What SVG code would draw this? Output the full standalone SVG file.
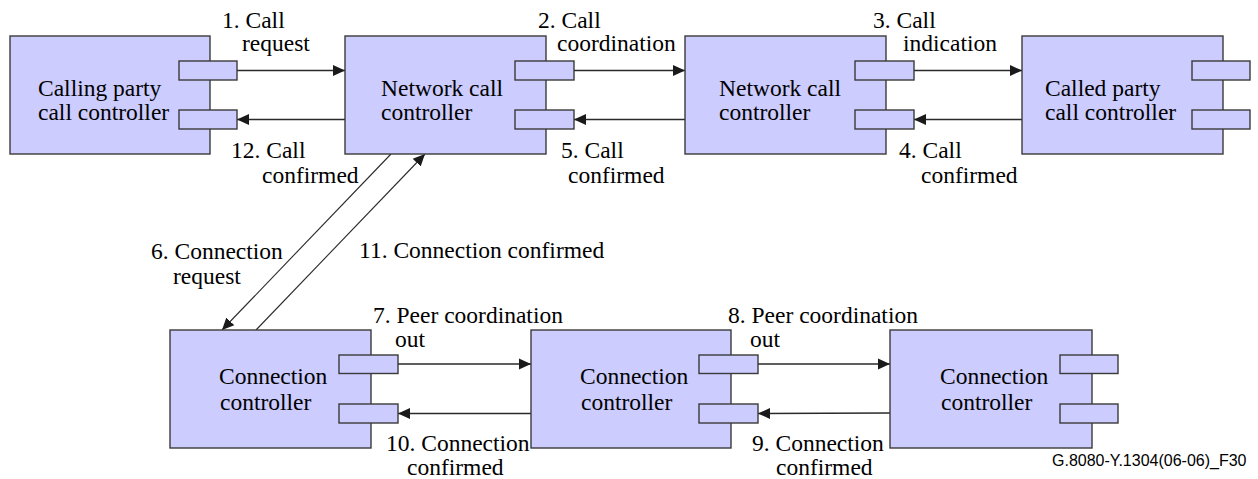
<svg xmlns="http://www.w3.org/2000/svg" width="1258" height="479" viewBox="0 0 1258 479">
<style>
.box{fill:#ccccff;stroke:#3a3a3a;stroke-width:1.4}
.port{fill:#ccccff;stroke:#3a3a3a;stroke-width:1.4}
.c{stroke:#2a2a2a;stroke-width:1.4;fill:none;marker-end:url(#ah)}
.d{stroke:#2a2a2a;stroke-width:1.1;fill:none;marker-end:url(#ah)}
</style>
<defs>
<marker id="ah" viewBox="0 0 12 12" refX="12" refY="6" markerWidth="12" markerHeight="12" markerUnits="userSpaceOnUse" orient="auto">
<path d="M0,0.5 L12,6 L0,11.5 Z" fill="#1a1a1a"/>
</marker>
</defs>
<rect width="1258" height="479" fill="#fff"/>

<g id="connectors">
<line class="c" x1="237" y1="70.5" x2="345" y2="70.5"/>
<line class="c" x1="345" y1="119.5" x2="237" y2="119.5"/>
<line class="c" x1="574" y1="70.5" x2="685" y2="70.5"/>
<line class="c" x1="685" y1="119.5" x2="574" y2="119.5"/>
<line class="c" x1="914" y1="70.5" x2="1022" y2="70.5"/>
<line class="c" x1="1022" y1="119.5" x2="914" y2="119.5"/>
<line class="d" x1="391" y1="154" x2="222" y2="330"/>
<line class="d" x1="256" y1="330" x2="425" y2="154"/>
<line class="c" x1="398" y1="364" x2="531" y2="364"/>
<line class="c" x1="531" y1="413.5" x2="398" y2="413.5"/>
<line class="c" x1="758" y1="364" x2="890" y2="364"/>
<line class="c" x1="890" y1="413" x2="758" y2="413.5"/>
</g>

<g font-family="'Liberation Serif', 'DejaVu Serif', serif" font-size="23.5" fill="#000">
<g id="node-calling">
<rect class="box" x="10" y="36" width="200" height="118"/>
<rect class="port" x="179" y="61" width="58" height="19"/>
<rect class="port" x="179" y="110" width="58" height="19"/>
<text x="38" y="96">Calling party</text>
<text x="38" y="119.5">call controller</text>
</g>

<g id="node-ncc1">
<rect class="box" x="345" y="36" width="201" height="118"/>
<rect class="port" x="515" y="61" width="59" height="19"/>
<rect class="port" x="515" y="110" width="59" height="19"/>
<text x="381" y="96">Network call</text>
<text x="381" y="119.5">controller</text>
</g>

<g id="node-ncc2">
<rect class="box" x="685" y="36" width="201" height="118"/>
<rect class="port" x="855" y="61" width="59" height="19"/>
<rect class="port" x="855" y="110" width="59" height="19"/>
<text x="719" y="96">Network call</text>
<text x="719" y="119.5">controller</text>
</g>

<g id="node-called">
<rect class="box" x="1022" y="36" width="201" height="118"/>
<rect class="port" x="1192" y="61" width="58" height="19"/>
<rect class="port" x="1192" y="110" width="58" height="19"/>
<text x="1045" y="96">Called party</text>
<text x="1045" y="119.5">call controller</text>
</g>

<g id="node-cc1">
<rect class="box" x="170" y="330" width="201" height="118"/>
<rect class="port" x="339" y="355" width="59" height="18.5"/>
<rect class="port" x="339" y="404" width="59" height="19"/>
<text x="219" y="384">Connection</text>
<text x="220" y="410">controller</text>
</g>

<g id="node-cc2">
<rect class="box" x="531" y="330" width="200" height="118"/>
<rect class="port" x="699" y="355" width="59" height="18.5"/>
<rect class="port" x="699" y="404" width="59" height="19"/>
<text x="580" y="384">Connection</text>
<text x="581" y="410">controller</text>
</g>

<g id="node-cc3">
<rect class="box" x="890" y="330" width="202" height="118"/>
<rect class="port" x="1060" y="355" width="58" height="18.5"/>
<rect class="port" x="1060" y="404" width="58" height="19"/>
<text x="940" y="384">Connection</text>
<text x="941" y="410">controller</text>
</g>

<g id="labels">
<text x="222" y="27.5">1. Call</text>
<text x="242" y="50.5">request</text>
<text x="231" y="158">12. Call</text>
<text x="262" y="183">confirmed</text>
<text x="538" y="27.5">2. Call</text>
<text x="557" y="50.5">coordination</text>
<text x="561" y="158">5. Call</text>
<text x="568" y="183">confirmed</text>
<text x="873" y="27.5">3. Call</text>
<text x="903" y="50.5">indication</text>
<text x="899" y="158">4. Call</text>
<text x="921" y="183">confirmed</text>
<text x="151" y="259">6. Connection</text>
<text x="173" y="284">request</text>
<text x="359" y="258">11. Connection confirmed</text>
<text x="373" y="322.5">7. Peer coordination</text>
<text x="395" y="347">out</text>
<text x="386" y="451">10. Connection</text>
<text x="407" y="475">confirmed</text>
<text x="728" y="322.5">8. Peer coordination</text>
<text x="750" y="347">out</text>
<text x="752" y="451">9. Connection</text>
<text x="776" y="475">confirmed</text>
</g>
</g>
<text x="1052" y="466" font-family="'Liberation Sans', Arial, sans-serif" font-size="16" fill="#000">G.8080-Y.1304(06-06)_F30</text>
</svg>
